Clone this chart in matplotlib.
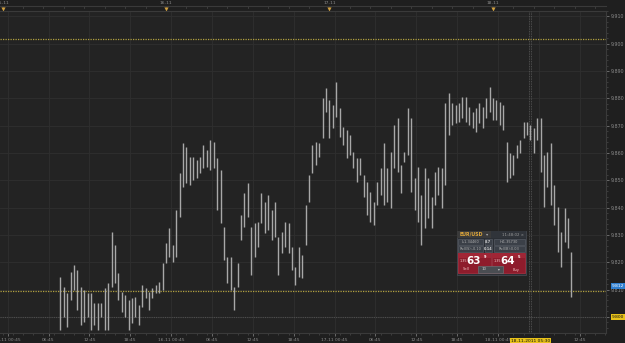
import matplotlib
matplotlib.use("Agg")
import matplotlib.pyplot as plt
from matplotlib.patches import Rectangle
from matplotlib.transforms import blended_transform_factory
import numpy as np

# 30 min bars, x = hours counted from 16-11 00:00
start_hour = -15.5
bar_hours = 0.5

highs = [9.8146, 9.8110, 9.8088, 9.8165, 9.8190, 9.8172, 9.8110, 9.8099, 9.8088, 9.8088,
         9.8051, 9.8051, 9.8051, 9.8106, 9.8124, 9.8311, 9.8264, 9.8161, 9.8092, 9.8081,
         9.8062, 9.8070, 9.8073, 9.8044, 9.8117, 9.8106, 9.8092, 9.8106, 9.8117, 9.8128,
         9.8198, 9.8271, 9.8326, 9.8264, 9.8392, 9.8527, 9.8637,
         9.8622, 9.8586, 9.8586, 9.8575, 9.8586, 9.8630, 9.8611, 9.8648, 9.8641, 9.8582,
         9.8538, 9.8329, 9.8220, 9.8220, 9.8110, 9.8198, 9.8373, 9.8454, 9.8490, 9.8329,
         9.8344, 9.8348, 9.8454, 9.8421, 9.8447, 9.8392, 9.8421, 9.8293, 9.8311, 9.8348,
         9.8344, 9.8256, 9.8183, 9.8256, 9.8227, 9.8410, 9.8520, 9.8630,
         9.8641, 9.8637, 9.8802, 9.8838, 9.8794, 9.8776, 9.8860, 9.8765, 9.8695, 9.8684,
         9.8666, 9.8604, 9.8582, 9.8582, 9.8520, 9.8494, 9.8458, 9.8421, 9.8494, 9.8545,
         9.8637, 9.8545, 9.8604, 9.8703, 9.8728, 9.8556, 9.8604, 9.8765, 9.8728, 9.8509,
         9.8549, 9.8447, 9.8545, 9.8509, 9.8439, 9.8531, 9.8549, 9.8545,
         9.8783, 9.8820, 9.8783, 9.8776, 9.8783, 9.8805, 9.8805, 9.8769, 9.8750, 9.8765,
         9.8783, 9.8769, 9.8802, 9.8842, 9.8802, 9.8794, 9.8787, 9.8776, 9.8641, 9.8600,
         9.8593, 9.8630, 9.8648, 9.8714, 9.8714, 9.8703, 9.8692, 9.8728, 9.8728, 9.8593,
         9.8604, 9.8637, 9.8483, 9.8403, 9.8311, 9.8399, 9.8362, 9.8238]

lows = [9.7952, 9.8000, 9.7963, 9.8062, 9.8099, 9.8026, 9.7971, 9.7982, 9.8000, 9.7952,
        9.7971, 9.7952, 9.8000, 9.7952, 9.7952, 9.8110, 9.8124, 9.8062, 9.8018, 9.8000,
        9.7952, 9.7978, 9.8000, 9.7971, 9.8037, 9.8070, 9.8026, 9.8070, 9.8088, 9.8088,
        9.8099, 9.8198, 9.8220, 9.8201, 9.8220, 9.8366, 9.8476,
        9.8490, 9.8483, 9.8501, 9.8509, 9.8527, 9.8545, 9.8549, 9.8538, 9.8545, 9.8392,
        9.8344, 9.8209, 9.8124, 9.8099, 9.8026, 9.8110, 9.8282, 9.8329, 9.8366, 9.8154,
        9.8220, 9.8256, 9.8344, 9.8307, 9.8318, 9.8282, 9.8293, 9.8154, 9.8234, 9.8256,
        9.8234, 9.8172, 9.8117, 9.8146, 9.8143, 9.8264, 9.8421, 9.8527,
        9.8556, 9.8586, 9.8655, 9.8750, 9.8655, 9.8692, 9.8732, 9.8659, 9.8630, 9.8582,
        9.8593, 9.8545, 9.8494, 9.8520, 9.8439, 9.8373, 9.8348, 9.8337, 9.8410, 9.8447,
        9.8410, 9.8421, 9.8399, 9.8545, 9.8531, 9.8454, 9.8567, 9.8593, 9.8458, 9.8392,
        9.8348, 9.8264, 9.8326, 9.8362, 9.8326, 9.8410, 9.8447, 9.8399,
        9.8483, 9.8666, 9.8703, 9.8710, 9.8714, 9.8728, 9.8714, 9.8703, 9.8692, 9.8677,
        9.8710, 9.8692, 9.8728, 9.8750, 9.8721, 9.8721, 9.8703, 9.8684, 9.8494, 9.8509,
        9.8520, 9.8582, 9.8600, 9.8655, 9.8666, 9.8648, 9.8600, 9.8648, 9.8531, 9.8403,
        9.8476, 9.8410, 9.8337, 9.8238, 9.8183, 9.8275, 9.8253, 9.8073]

time_ticks = [-23.25, -17.25, -11.25, -5.25, 0.75, 6.75, 12.75, 18.75,
              24.75, 30.75, 36.75, 42.75, 48.75, 60.75]
time_labels = ["15-11 00:45", "06:45", "12:45", "18:45", "16-11 00:45", "06:45",
               "12:45", "18:45", "17-11 00:45", "06:45", "12:45", "18:45",
               "18-11 00:45", "12:45"]
grid_hours = time_ticks + [54.75]
day_hours = [-24, 0, 24, 48]
day_labels = ["15-11", "16-11", "17-11", "18-11"]
price_ticks = [9.80, 9.81, 9.82, 9.83, 9.84, 9.85, 9.86, 9.87, 9.88, 9.89, 9.90, 9.91]
now_hour = 53.5
now_label = "18-11-2011 05:30"
upper_level = 9.9017
lower_level = 9.8095
last_price = 9.8113
last_label = "9.812"
base_label = "9.800"

W, H = 625, 343
bg = "#1f1f1f"
plot_bg = "#232323"
txt = "#8a8a8a"

fig = plt.figure(figsize=(W / 100, H / 100), dpi=100, facecolor=bg)
ax = fig.add_axes([0, 1 - 333 / H, 606 / W, 322 / H], facecolor=plot_bg)

def fx(x):
    return x / W

def fy(y):
    return 1 - y / H

times = start_hour + bar_hours * np.arange(len(highs))

for g in grid_hours:
    ax.axvline(g, color="#2f2f2f", lw=0.6, zorder=0)
for p in price_ticks:
    ax.axhline(p, color="#2f2f2f", lw=0.6, zorder=0)

ax.vlines(times, lows, highs, color="#a8a8a8", lw=1.0, zorder=3)

ax.axhline(upper_level, color="#b0a040", lw=0.9, ls=(0, (1, 1)), zorder=2)
ax.axhline(lower_level, color="#b0a040", lw=0.9, ls=(0, (1, 1)), zorder=2)
ax.axhline(9.800, color="#4e4e4e", lw=0.8, ls=(0, (1, 1)), zorder=2)
ax.axvline(now_hour - 0.15, color="#5a5a5a", lw=0.6, ls=(0, (1, 1)), zorder=2)
ax.axvline(now_hour + 0.15, color="#5a5a5a", lw=0.6, ls=(0, (1, 1)), zorder=2)

ax.set_xlim(-24.37, 64.59)
ax.set_ylim(9.7941, 9.9120)

ax.spines["left"].set_visible(False)
for s in ["top", "right", "bottom"]:
    ax.spines[s].set_color("#3a3a3a")
    ax.spines[s].set_linewidth(0.8)

ax.set_xticks(time_ticks)
ax.set_xticklabels(time_labels)
ax.set_xticks(np.arange(-24, 64.6, 1.5), minor=True)
ax.tick_params(axis="x", which="major", colors=txt, labelsize=3.2, length=2, width=0.5, pad=1.5)
ax.tick_params(axis="x", which="minor", colors="#555555", length=1.5, width=0.4)
ax.yaxis.tick_right()
ax.set_yticks(price_ticks)
# 9.800 is covered by the yellow marker label
ax.set_yticklabels(["" if p == 9.80 else "%.3f" % p for p in price_ticks])
ax.set_yticks(np.arange(9.796, 9.912, 0.002), minor=True)
ax.tick_params(axis="y", which="major", colors=txt, labelsize=3.4, length=2, width=0.5, pad=1.5)
ax.tick_params(axis="y", which="minor", colors="#555555", length=1.2, width=0.4)

# highlighted labels
ax.text(now_hour, -0.02, now_label, transform=blended_transform_factory(ax.transData, ax.transAxes),
        ha="center", va="top", fontsize=3.2, color="#111111",
        bbox=dict(boxstyle="square,pad=0.25", fc="#e8c21a", ec="none"), zorder=10, clip_on=False)
yt = blended_transform_factory(ax.transAxes, ax.transData)
ax.text(1.01, last_price, last_label, transform=yt, ha="left", va="center", fontsize=3.2,
        color="white", bbox=dict(boxstyle="square,pad=0.2", fc="#2f7fd0", ec="none"), clip_on=False)
ax.text(1.01, 9.800, base_label, transform=yt, ha="left", va="center", fontsize=3.2,
        color="#111111", bbox=dict(boxstyle="square,pad=0.2", fc="#e8c21a", ec="none"), clip_on=False)

# top date axis
tf = blended_transform_factory(ax.transData, fig.transFigure)
fig.add_artist(plt.Line2D([0, fx(606)], [fy(6), fy(6)], color="#3a3a3a", lw=0.8))
for t in np.arange(-24, 64.6, 3):
    ax.plot([t, t], [fy(6), fy(8)], transform=tf, color="#4a4a4a", lw=0.5, clip_on=False)
for d, lab in zip(day_hours, day_labels):
    ax.text(d, fy(3), lab, transform=tf, ha="center", va="center", fontsize=3.2,
            color=txt, clip_on=False)
    ax.plot([d], [fy(8.5)], transform=tf, marker="v", ms=3, color="#d0a040",
            mec="none", clip_on=False)

# trade panel
def box(x0, y0, x1, y1, fc, ec="none", lw=0.5):
    fig.add_artist(Rectangle((fx(x0), fy(y1)), (x1 - x0) / W, (y1 - y0) / H,
                             transform=fig.transFigure, fc=fc, ec=ec, lw=lw))

def label(x, y, s, size, color, ha="center", weight="normal"):
    fig.text(fx(x), fy(y), s, fontsize=size, color=color, ha=ha, va="center",
             fontweight=weight)

box(457, 231, 526, 275, "#2b2f35", "#4a4f56")
box(457, 231, 491, 238, "#3a3a3a")
box(491, 231, 526, 238, "#30343a")
label(460, 234.5, "EUR/USD", 3.4, "#e0a83a", ha="left", weight="bold")
label(487, 234.5, "\u25be", 3.2, "#aaaaaa")
label(524, 234.5, "11:48:02 \u00d7", 2.8, "#9a9a9a", ha="right")
for y0, left, mid, right in [(239, "L:1.34460", "8.7", "H:1.35730"),
                             (246, "Roll(S):-0.10", "0.14", "Roll(B):0.03")]:
    box(458, y0, 483, y0 + 6, "#3b4048", "#555a62")
    box(484.5, y0, 492, y0 + 6, "#3b4048", "#555a62")
    box(493.5, y0, 525, y0 + 6, "#3b4048", "#555a62")
    label(470.5, y0 + 3, left, 2.5, "#b0b0b0")
    label(488.2, y0 + 3, mid, 2.5, "#d0d0d0", weight="bold")
    label(509, y0 + 3, right, 2.5, "#b0b0b0")
for x0, x1, big, small, side in [(458, 491, "63", "9", "Sell"), (492, 525, "64", "5", "Buy")]:
    box(x0, 253, x1, 273, "#8e1c2c", "#b03040")
    box(x0, 253, x1, 258, "#a02636")
    label(x0 + 5, 261, "1.35", 2.4, "#f0d0d0")
    label(x0 + 16, 260.5, big, 7.5, "white", weight="bold")
    label(x0 + 27, 256.5, small, 2.6, "white", weight="bold")
    label(x0 + (8 if side == "Sell" else 24), 269.5, side, 2.6, "#f0c0c0")
box(478, 266, 503, 272.5, "#4a4d52", "#6a6d72")
label(484, 269.2, "10", 2.8, "#cccccc")
label(499, 269.2, "\u25be", 2.6, "#cccccc")

fig.savefig("out.png", dpi=100, facecolor=bg)
